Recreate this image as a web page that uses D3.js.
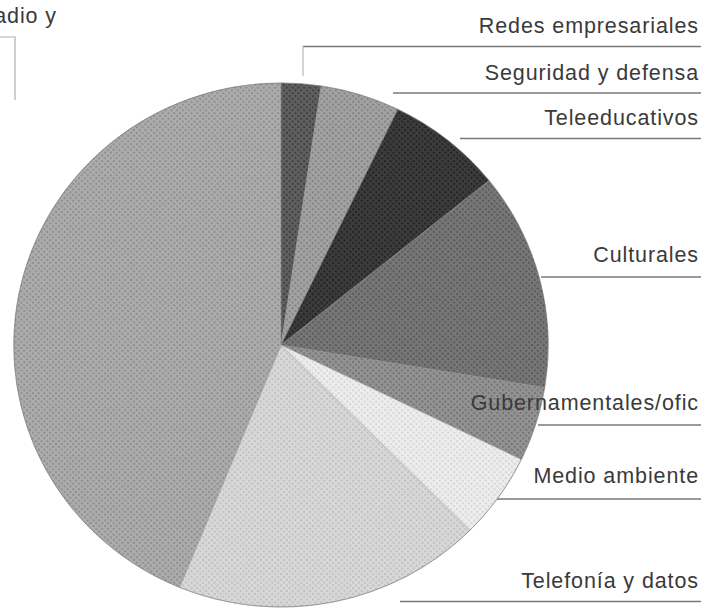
<!DOCTYPE html>
<html>
<head>
<meta charset="utf-8">
<script src="https://cdn.jsdelivr.net/npm/d3@7"></script>
<style>
  html, body { margin: 0; padding: 0; background: #fff; }
  svg { display: block; }
  text { font-family: "Liberation Sans", Arial, sans-serif; }
</style>
</head>
<body>
<svg id="chart" width="708" height="608"></svg>
<script>
// ---- data (percent shares, read clockwise from 12 o'clock) ----
const categories = [
  "Redes empresariales",
  "Seguridad y defensa",
  "Teleeducativos",
  "Culturales",
  "Gubernamentales/ofic",
  "Medio ambiente",
  "Telefonía y datos",
  "Radio y"
];
const values = [2.4, 4.8, 7.0, 13.4, 4.6, 5.3, 18.7, 43.8];

// ---- styling ----
const baseColors = ["#606060", "#a2a2a2", "#3c3c3c", "#777777", "#939393", "#ededed", "#d8d8d8", "#acacac"];
const dotColors  = ["#3a3a3a", "#7e7e7e", "#1e1e1e", "#555555", "#6e6e6e", "#d2d2d2", "#bcbcbc", "#8a8a8a"];
// label layout: [baseline y, line y, line start x]
const labelLayout = [
  [33, 46.5, 303],
  [80, 93, 393],
  [125, 138.5, 460],
  [262, 277, 541],
  [410, 425, 538],
  [483, 499, 497],
  [588, 601.5, 400]
];

const svg = d3.select("#chart");
const cx = 281, cy = 345, R = 262;

const defs = svg.append("defs");
baseColors.forEach((c, i) => {
  const p = defs.append("pattern")
    .attr("id", "ht" + i)
    .attr("patternUnits", "userSpaceOnUse")
    .attr("width", 4).attr("height", 4)
    .attr("patternTransform", "rotate(45)");
  p.append("rect").attr("width", 4).attr("height", 4).attr("fill", c);
  p.append("circle").attr("cx", 2).attr("cy", 2).attr("r", 1.05).attr("fill", dotColors[i]);
});

const pie = d3.pie().sort(null).value(d => d)
  .startAngle(0).endAngle(2 * Math.PI);
const arc = d3.arc().innerRadius(0).outerRadius(R);

const g = svg.append("g")
  .attr("transform", `translate(${cx},${cy}) scale(1.02,1)`);

g.selectAll("path.slice")
  .data(pie(values))
  .join("path")
  .attr("class", "slice")
  .attr("d", arc)
  .attr("fill", (d, i) => `url(#ht${i})`)
  .attr("stroke", "#8a8a8a")
  .attr("stroke-width", 0.4);

// outer faint rim
g.append("circle").attr("r", R).attr("fill", "none")
  .attr("stroke", "#6a6a6a").attr("stroke-width", 0.8).attr("opacity", 0.6);

// ---- labels on the right ----
const rightX = 699, lineEnd = 701;
const lab = svg.append("g");
categories.slice(0, 7).forEach((name, i) => {
  const [ty, ly, lx] = labelLayout[i];
  lab.append("line")
    .attr("x1", lx).attr("x2", lineEnd)
    .attr("y1", ly).attr("y2", ly)
    .attr("stroke", "#7a7a7a").attr("stroke-width", 1.4);
  lab.append("text")
    .attr("x", rightX).attr("y", ty)
    .attr("text-anchor", "end")
    .attr("font-size", 21.5)
    .attr("letter-spacing", 0.9)
    .attr("fill", "#3a3a3a")
    .text(name);
});
// leader for the first label
lab.append("line")
  .attr("x1", 303).attr("x2", 303).attr("y1", 46.5).attr("y2", 76)
  .attr("stroke", "#b8b8b8").attr("stroke-width", 1.2);

// ---- label on the left (partly cut off) ----
lab.append("text")
  .attr("x", 57).attr("y", 23)
  .attr("text-anchor", "end")
  .attr("font-size", 21.5)
  .attr("letter-spacing", 0.9)
  .attr("fill", "#3a3a3a")
  .text(categories[7]);
lab.append("path")
  .attr("d", "M0,37H15V100")
  .attr("fill", "none")
  .attr("stroke", "#b0b0b0").attr("stroke-width", 1.2);
</script>
</body>
</html>
